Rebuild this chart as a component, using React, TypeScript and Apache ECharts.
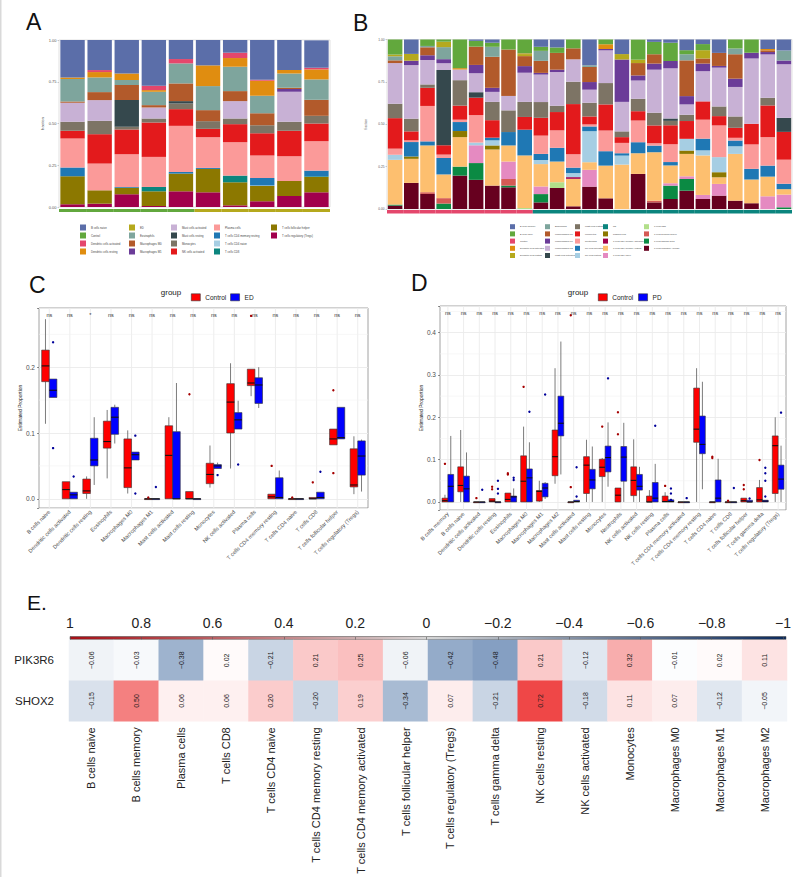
import React, { useEffect, useRef } from 'react';
import * as echarts from 'echarts';

// ---------- shared palette (assigned in alphabetical legend order) ----------
const PALETTE = ['#5b6ea9', '#62a83d', '#e4476c', '#e08d10', '#b5a91d', '#7ea59d', '#b25a2b', '#6b3c98', '#c8b1d5', '#35484d', '#7d7465', '#e31a1c', '#fb9a99', '#1f78b4', '#a6cee3', '#0b857e', '#8c7800', '#a1004c', '#fdbf6f', '#e58ac1', '#b2df8a', '#d55a55', '#0b8a43', '#67001f'];

// ---------- Panel A ----------
const A_SAMPLES = ['S1', 'S2', 'S3', 'S4', 'S5', 'S6', 'S7', 'S8', 'S9', 'S10'];
const A_GROUP = ['Control', 'Control', 'Control', 'Control', 'Control', 'ED', 'ED', 'ED', 'ED', 'ED'];
const A_GROUPS = ['Control', 'ED'];
const A_LEGEND = ['B cells naive', 'Control', 'Dendritic cells activated', 'Dendritic cells resting', 'ED', 'Eosinophils', 'Macrophages M0', 'Macrophages M1', 'Mast cells activated', 'Mast cells resting', 'Monocytes', 'NK cells activated', 'Plasma cells', 'T cells CD4 memory resting', 'T cells CD4 naive', 'T cells CD8', 'T cells follicular helper', 'T cells regulatory (Tregs)'];
const A_TREGS = [0.016, 0.02, 0.076, 0.006, 0.094, 0.088, 0.01, 0.034, 0.066, 0.088];
const A_TFH = [0.168, 0.08, 0.04, 0.088, 0.106, 0.14, 0.138, 0.092, 0.09, 0.092];
const A_CD8 = [0, 0, 0, 0.026, 0, 0, 0.04, 0, 0, 0.004];
const A_CD4N = [0, 0, 0, 0, 0, 0, 0, 0.003, 0, 0];
const A_CD4MR = [0.052, 0, 0.004, 0, 0.01, 0.006, 0, 0.044, 0, 0.034];
const A_PLASMA = [0.174, 0.16, 0.196, 0.18, 0.276, 0.184, 0.2, 0.135, 0.148, 0.176];
const A_NKA = [0.046, 0.176, 0.148, 0.206, 0.1, 0.05, 0.108, 0.134, 0.152, 0.106];
const A_MONO = [0.054, 0.08, 0.016, 0.024, 0.034, 0.046, 0.034, 0.048, 0.054, 0.046];
const A_MASTR = [0, 0, 0.16, 0, 0.014, 0, 0, 0, 0, 0];
const A_MASTA = [0.114, 0.124, 0, 0.066, 0, 0, 0.104, 0, 0.18, 0];
const A_M1 = [0, 0, 0, 0, 0, 0, 0, 0, 0.016, 0];
const A_M0 = [0.008, 0.048, 0.09, 0.014, 0.106, 0.066, 0.06, 0.072, 0.008, 0.096];
const A_EOS = [0.134, 0.088, 0.03, 0.08, 0.12, 0.144, 0.146, 0.104, 0.086, 0.122];
const A_DCR = [0.01, 0.032, 0.04, 0.01, 0, 0.124, 0.052, 0.09, 0.02, 0.06];
const A_DCA = [0, 0.012, 0, 0.026, 0.026, 0, 0.032, 0.006, 0, 0.01];
const A_BNAIVE = [0.224, 0.18, 0.2, 0.274, 0.114, 0.152, 0.076, 0.238, 0.18, 0.164];
const A_STACK: [string, number[]][] = [
  ['T cells regulatory (Tregs)', A_TREGS], ['T cells follicular helper', A_TFH], ['T cells CD8', A_CD8],
  ['T cells CD4 naive', A_CD4N], ['T cells CD4 memory resting', A_CD4MR], ['Plasma cells', A_PLASMA],
  ['NK cells activated', A_NKA], ['Monocytes', A_MONO], ['Mast cells resting', A_MASTR],
  ['Mast cells activated', A_MASTA], ['Macrophages M1', A_M1], ['Macrophages M0', A_M0],
  ['Eosinophils', A_EOS], ['Dendritic cells resting', A_DCR], ['Dendritic cells activated', A_DCA],
  ['B cells naive', A_BNAIVE],
];

// ---------- Panel B ----------
const B_SAMPLES = ['P1', 'P2', 'P3', 'P4', 'P5', 'P6', 'P7', 'P8', 'P9', 'P10', 'P11', 'P12', 'P13', 'P14', 'P15', 'P16', 'P17', 'P18', 'P19', 'P20', 'P21', 'P22', 'P23', 'P24', 'P25'];
const B_GROUP = ['Control', 'Control', 'Control', 'Control', 'Control', 'Control', 'Control', 'Control', 'Control', 'PD', 'PD', 'PD', 'PD', 'PD', 'PD', 'PD', 'PD', 'PD', 'PD', 'PD', 'PD', 'PD', 'PD', 'PD', 'PD'];
const B_GROUPS = ['Control', 'PD'];
const B_LEGEND = ['B cells memory', 'B cells naive', 'Control', 'Dendritic cells activated', 'Dendritic cells resting', 'Eosinophils', 'Macrophages M0', 'Macrophages M1', 'Macrophages M2', 'Mast cells activated', 'Mast cells resting', 'Monocytes', 'Neutrophils', 'NK cells activated', 'NK cells resting', 'PD', 'Plasma cells', 'T cells CD4 memory activated', 'T cells CD4 memory resting', 'T cells CD4 naive', 'T cells CD8', 'T cells follicular helper', 'T cells gamma delta', 'T cells regulatory (Tregs)'];
const B_TREGS = [0.02, 0.154, 0.089, 0, 0.197, 0.172, 0.138, 0.128, 0, 0.039, 0.124, 0.016, 0.132, 0.063, 0, 0.207, 0.039, 0.059, 0.108, 0.059, 0.079, 0.049, 0.034, 0, 0];
const B_TGD = [0.006, 0, 0, 0.032, 0.053, 0.099, 0, 0.01, 0, 0.049, 0, 0, 0, 0, 0, 0, 0, 0.079, 0.069, 0, 0, 0, 0, 0, 0.01];
const B_TFH = [0, 0, 0.01, 0.032, 0, 0, 0, 0.039, 0, 0, 0, 0, 0, 0, 0, 0, 0.01, 0, 0, 0, 0, 0, 0, 0, 0];
const B_CD8 = [0, 0, 0, 0, 0, 0, 0, 0, 0.006, 0, 0.034, 0, 0, 0, 0, 0, 0, 0, 0, 0, 0, 0, 0, 0, 0];
const B_CD4N = [0, 0, 0, 0, 0, 0.105, 0, 0.103, 0, 0.045, 0, 0, 0.099, 0, 0, 0, 0, 0.014, 0.016, 0.024, 0.069, 0, 0, 0.075, 0.075];
const B_CD4MR = [0.264, 0.142, 0.276, 0.14, 0.174, 0, 0.213, 0.095, 0.31, 0.132, 0.122, 0.162, 0.045, 0.193, 0.262, 0.122, 0.286, 0.105, 0.132, 0.233, 0.039, 0.276, 0.14, 0.116, 0.032];
const B_CD4MA = [0, 0, 0, 0, 0, 0, 0, 0, 0, 0, 0, 0.01, 0, 0, 0, 0, 0, 0, 0, 0, 0, 0, 0, 0, 0];
const B_PLASMA = [0, 0.014, 0, 0, 0.036, 0, 0.024, 0, 0, 0, 0, 0, 0, 0, 0, 0, 0, 0, 0.02, 0, 0.03, 0, 0, 0, 0];
const B_NKR = [0.03, 0, 0, 0, 0, 0.016, 0.03, 0, 0, 0.024, 0, 0.024, 0.183, 0, 0.053, 0, 0, 0, 0.069, 0.03, 0.089, 0.045, 0, 0, 0];
const B_NKA = [0, 0.085, 0.024, 0.097, 0.053, 0, 0.016, 0.079, 0.152, 0.036, 0.081, 0.032, 0.028, 0.085, 0.014, 0.065, 0.039, 0.02, 0, 0.069, 0, 0.034, 0.063, 0.065, 0.032];
const B_NEUT = [0.036, 0.01, 0.209, 0.02, 0.014, 0.162, 0, 0, 0, 0.108, 0.103, 0.079, 0.012, 0.122, 0.061, 0.128, 0.014, 0.105, 0, 0.112, 0.187, 0.016, 0.144, 0.168, 0.142];
const B_MONO = [0.18, 0.053, 0.107, 0.055, 0.083, 0.103, 0.103, 0, 0.075, 0.105, 0.108, 0.296, 0.047, 0.154, 0.034, 0.055, 0.105, 0.112, 0.105, 0.108, 0.055, 0.059, 0.122, 0.187, 0.164];
const B_MASTR = [0.085, 0.075, 0.02, 0, 0.15, 0, 0.108, 0.128, 0.089, 0.093, 0.037, 0.132, 0.081, 0.126, 0.034, 0.073, 0.075, 0.026, 0.037, 0, 0.057, 0.067, 0, 0.045, 0];
const B_MASTA = [0, 0, 0, 0.444, 0, 0.032, 0, 0, 0, 0, 0, 0, 0, 0, 0, 0, 0, 0.014, 0, 0, 0, 0, 0, 0, 0.083];
const B_M2 = [0.24, 0.316, 0.144, 0.04, 0.063, 0.112, 0.059, 0.085, 0.172, 0.162, 0.199, 0.132, 0.077, 0.193, 0.174, 0.108, 0.254, 0.296, 0.061, 0.178, 0.229, 0.174, 0.385, 0.256, 0.316];
const B_M1 = [0, 0.026, 0.028, 0.024, 0, 0.049, 0.024, 0, 0.039, 0.01, 0.014, 0, 0.045, 0.008, 0.25, 0.03, 0.036, 0.043, 0.049, 0.045, 0.01, 0.049, 0.034, 0.014, 0.022];
const B_M0 = [0.016, 0, 0.047, 0, 0, 0.108, 0.183, 0.274, 0.059, 0.071, 0.099, 0.065, 0.089, 0, 0, 0.073, 0.055, 0, 0.211, 0.03, 0.077, 0.144, 0, 0.01, 0];
const B_EOS = [0.024, 0, 0.008, 0.071, 0, 0, 0.059, 0, 0, 0.059, 0, 0, 0.01, 0, 0, 0, 0, 0, 0.036, 0, 0, 0.034, 0, 0, 0.059];
const B_DCR = [0.01, 0.04, 0, 0.032, 0, 0, 0, 0, 0.012, 0, 0, 0, 0, 0, 0.032, 0.02, 0, 0, 0, 0.049, 0, 0, 0, 0, 0];
const B_DCA = [0, 0, 0, 0, 0.008, 0, 0, 0, 0.004, 0, 0, 0, 0, 0.028, 0, 0, 0, 0, 0, 0, 0, 0, 0, 0.008, 0];
const B_BNAIVE = [0.089, 0, 0.04, 0.016, 0.17, 0.034, 0.024, 0.059, 0.083, 0.024, 0.032, 0.053, 0, 0.028, 0, 0.118, 0.073, 0.108, 0.024, 0.036, 0, 0.053, 0.079, 0, 0];
const B_BMEM = [0, 0.087, 0, 0, 0, 0.01, 0.02, 0, 0, 0.043, 0.047, 0, 0.152, 0, 0.087, 0, 0.014, 0.02, 0.063, 0.028, 0.079, 0, 0, 0.055, 0.067];
const B_STACK: [string, number[]][] = [
  ['T cells regulatory (Tregs)', B_TREGS], ['T cells gamma delta', B_TGD], ['T cells follicular helper', B_TFH],
  ['T cells CD8', B_CD8], ['T cells CD4 naive', B_CD4N], ['T cells CD4 memory resting', B_CD4MR],
  ['T cells CD4 memory activated', B_CD4MA], ['Plasma cells', B_PLASMA], ['NK cells resting', B_NKR],
  ['NK cells activated', B_NKA], ['Neutrophils', B_NEUT], ['Monocytes', B_MONO],
  ['Mast cells resting', B_MASTR], ['Mast cells activated', B_MASTA], ['Macrophages M2', B_M2],
  ['Macrophages M1', B_M1], ['Macrophages M0', B_M0], ['Eosinophils', B_EOS],
  ['Dendritic cells resting', B_DCR], ['Dendritic cells activated', B_DCA], ['B cells naive', B_BNAIVE],
  ['B cells memory', B_BMEM],
];

// ---------- Panel C (boxes: [lower whisker, Q1, median, Q3, upper whisker]) ----------
const C_CATS = ['B cells naive', 'Dendritic cells activated', 'Dendritic cells resting', 'Eosinophils', 'Macrophages M0', 'Macrophages M1', 'Mast cells activated', 'Mast cells resting', 'Monocytes', 'NK cells activated', 'Plasma cells', 'T cells CD4 memory resting', 'T cells CD4 naive', 'T cells CD8', 'T cells follicular helper', 'T cells regulatory (Tregs)'];
const C_CTRL_BOX = [[0.114, 0.178, 0.202, 0.226, 0.273], [0, 0, 0.014, 0.026, 0.026], [0, 0.008, 0.012, 0.03, 0.034], [0.031, 0.077, 0.087, 0.118, 0.135], [0.008, 0.017, 0.047, 0.091, 0.104], [0, 0, 0, 0, 0], [0, 0, 0.066, 0.111, 0.124], [0, 0, 0, 0.011, 0.011], [0.017, 0.023, 0.037, 0.054, 0.081], [0.046, 0.1, 0.147, 0.175, 0.206], [0.156, 0.172, 0.176, 0.197, 0.197], [0, 0, 0.003, 0.007, 0.007], [0, 0, 0, 0, 0], [0, 0, 0, 0.002, 0.002], [0.082, 0.082, 0.091, 0.106, 0.106], [0.007, 0.018, 0.021, 0.076, 0.095]];
const C_ED_BOX = [[0.154, 0.154, 0.165, 0.182, 0.182], [0, 0, 0.006, 0.01, 0.01], [0.021, 0.05, 0.059, 0.092, 0.124], [0.084, 0.098, 0.124, 0.139, 0.143], [0.059, 0.059, 0.067, 0.071, 0.071], [0, 0, 0, 0, 0], [0, 0, 0, 0.102, 0.176], [0, 0, 0, 0, 0], [0.046, 0.046, 0.05, 0.052, 0.055], [0.106, 0.106, 0.12, 0.131, 0.149], [0.138, 0.145, 0.173, 0.184, 0.2], [0, 0, 0.002, 0.032, 0.043], [0, 0, 0, 0, 0], [0, 0, 0.002, 0.01, 0.01], [0.091, 0.091, 0.093, 0.139, 0.139], [0.011, 0.036, 0.065, 0.088, 0.09]];
const C_CTRL_OUT = [[], [], [], [], [], [0.002], [], [0.159], [], [], [0.278], [0.05], [0.002], [0.025], [0.165, 0.039], []];
const C_ED_OUT = [[0.238, 0.077], [0.034], [], [], [0.096, 0.008], [0.018], [], [], [0.036], [0.052], [], [], [], [0.041], [], []];
const C_SIG = ['ns', 'ns', '*', 'ns', 'ns', 'ns', 'ns', 'ns', 'ns', 'ns', 'ns', 'ns', 'ns', 'ns', 'ns', 'ns'];
const C_MINOR = [0.05, 0.15, 0.25];

// ---------- Panel D ----------
const D_CATS = ['B cells memory', 'B cells naive', 'Dendritic cells activated', 'Dendritic cells resting', 'Eosinophils', 'Macrophages M0', 'Macrophages M1', 'Macrophages M2', 'Mast cells activated', 'Mast cells resting', 'Monocytes', 'Neutrophils', 'NK cells activated', 'NK cells resting', 'Plasma cells', 'T cells CD4 memory activated', 'T cells CD4 memory resting', 'T cells CD4 naive', 'T cells CD8', 'T cells follicular helper', 'T cells gamma delta', 'T cells regulatory (Tregs)'];
const D_CTRL_BOX = [[0, 0, 0.003, 0.009, 0.017], [0, 0.024, 0.039, 0.083, 0.17], [0, 0, 0, 0, 0], [0, 0, 0.002, 0.008, 0.008], [0, 0, 0.006, 0.021, 0.021], [0, 0, 0.049, 0.109, 0.178], [0, 0.002, 0.025, 0.027, 0.05], [0.043, 0.062, 0.107, 0.17, 0.316], [0, 0, 0, 0, 0], [0, 0.02, 0.087, 0.107, 0.147], [0, 0.06, 0.082, 0.101, 0.104], [0, 0, 0.016, 0.033, 0.033], [0, 0.015, 0.051, 0.083, 0.148], [0, 0, 0, 0.014, 0.028], [0, 0, 0.001, 0.014, 0.023], [0, 0, 0, 0, 0], [0, 0.141, 0.172, 0.269, 0.316], [0, 0, 0, 0, 0], [0, 0, 0, 0, 0], [0, 0, 0.003, 0.009, 0.009], [0, 0, 0.005, 0.034, 0.052], [0, 0.02, 0.133, 0.156, 0.2]];
const D_PD_BOX = [[0, 0, 0.037, 0.065, 0.156], [0, 0, 0.031, 0.061, 0.117], [0, 0, 0, 0, 0], [0, 0, 0, 0, 0], [0, 0, 0.012, 0.014, 0.032], [0, 0, 0.057, 0.078, 0.141], [0.007, 0.012, 0.033, 0.044, 0.047], [0.065, 0.156, 0.186, 0.25, 0.379], [0, 0, 0.001, 0.004, 0.004], [0, 0.031, 0.052, 0.077, 0.131], [0.036, 0.071, 0.105, 0.132, 0.188], [0, 0.049, 0.106, 0.131, 0.187], [0, 0.028, 0.037, 0.065, 0.083], [0, 0, 0.009, 0.046, 0.09], [0, 0, 0.001, 0.005, 0.005], [0, 0, 0, 0, 0], [0.03, 0.114, 0.136, 0.203, 0.284], [0, 0, 0.009, 0.052, 0.102], [0, 0, 0, 0, 0], [0, 0, 0, 0.004, 0.004], [0, 0, 0.002, 0.004, 0.004], [0, 0.03, 0.054, 0.087, 0.133]];
const D_CTRL_OUT = [[0.09], [], [0.009], [0.036, 0.03], [0.068, 0.065], [0.272], [], [], [0.441, 0.035], [], [0.178], [0.212, 0.16], [], [], [0.038], [], [], [0.107, 0.104], [0.003], [0.04, 0.03], [0.099], []];
const D_PD_OUT = [[], [], [0.029], [0.05, 0.031, 0.02], [0.057, 0.052], [0.213], [0.254], [], [0.082, 0.013], [], [0.292], [], [], [0.18], [0.032, 0.02, 0.005], [0.009], [], [], [0.033], [0.008], [0.081, 0.068, 0.05, 0.013], [0.211]];
const D_SIG = ['ns', 'ns', 'ns', 'ns', 'ns', 'ns', 'ns', 'ns', 'ns', 'ns', 'ns', 'ns', 'ns', 'ns', 'ns', 'ns', 'ns', 'ns', 'ns', 'ns', 'ns', 'ns'];
const D_MINOR = [0.05, 0.15, 0.25, 0.35, 0.45];

// ---------- Panel E ----------
const E_COLS = ['B cells naive', 'B cells memory', 'Plasma cells', 'T cells CD8', 'T cells CD4 naive', 'T cells CD4 memory resting', 'T cells CD4 memory activated', 'T cells follicular helper', 'T cells regulatory (Tregs)', 'T cells gamma delta', 'NK cells resting', 'NK cells activated', 'Monocytes', 'Macrophages M0', 'Macrophages M1', 'Macrophages M2'];
const E_ROWS = ['SHOX2', 'PIK3R6'];
const E_PIK3R6 = [-0.06, -0.03, -0.38, 0.02, -0.21, 0.21, 0.25, -0.06, -0.42, -0.48, 0.21, -0.12, 0.32, -0.01, 0.02, 0.11];
const E_SHOX2 = [-0.15, 0.5, 0.06, 0.06, 0.2, -0.2, 0.19, -0.34, 0.07, -0.21, 0.72, -0.18, 0.11, 0.07, -0.12, -0.05];

const FONT = 'Liberation Sans';
const minus = (s: string) => s.replace('-', '\u2212');

function boxRenderer(side: number, fill: string) {
  return (params: any, api: any) => {
    const i = api.value(0);
    const lo = api.value(1), q1 = api.value(2), med = api.value(3), q3 = api.value(4), hi = api.value(5);
    const band = api.size([1, 0])[0];
    const w = band * 0.37;
    const c0 = api.coord([i, 0])[0];
    const left = side < 0 ? c0 - w : c0;
    const cx = left + w / 2;
    const y = (v: number) => api.coord([i, v])[1];
    const h = Math.max(y(q1) - y(q3), 0.8);
    return {
      type: 'group',
      children: [
        { type: 'line', shape: { x1: cx, y1: y(hi), x2: cx, y2: y(q3) }, style: { stroke: '#5a5a5a', lineWidth: 0.8 } },
        { type: 'line', shape: { x1: cx, y1: y(q1), x2: cx, y2: y(lo) }, style: { stroke: '#5a5a5a', lineWidth: 0.8 } },
        { type: 'rect', shape: { x: left, y: y(q3), width: w, height: h }, style: { fill, stroke: '#333', lineWidth: 0.6 } },
        { type: 'line', shape: { x1: left, y1: y(med), x2: left + w, y2: y(med) }, style: { stroke: '#111', lineWidth: 1.1 } },
      ],
    };
  };
}

function outlierRenderer(color: string) {
  return (params: any, api: any) => {
    const i = api.value(0);
    const side = api.value(1);
    const v = api.value(2);
    const band = api.size([1, 0])[0];
    const w = band * 0.37;
    const c = api.coord([i, v]);
    return { type: 'circle', shape: { cx: c[0] + side * w / 2, cy: c[1], r: 1.2 }, style: { fill: color } };
  };
}

function boxPanelSeries(prefix: string, axis: number, cats: string[], boxA: number[][], boxB: number[][], outA: number[][], outB: number[][], sig: string[], sigY: number, minor: number[], nameA: string, nameB: string) {
  const vgrid = {
    type: 'custom', xAxisIndex: axis, yAxisIndex: axis, silent: true, z: 1,
    data: cats.map((_, i) => [i, 0]), encode: { x: 0, y: 1 },
    renderItem: (params: any, api: any) => {
      const cs = params.coordSys;
      const x = api.coord([api.value(0), 0])[0];
      return { type: 'line', shape: { x1: x, y1: cs.y, x2: x, y2: cs.y + cs.height }, style: { stroke: '#ebebeb', lineWidth: 0.9 } };
    },
  };
  const hgrid = {
    type: 'custom', xAxisIndex: axis, yAxisIndex: axis, silent: true, z: 1,
    data: minor.map((v) => [0, v]), encode: { x: 0, y: 1 },
    renderItem: (params: any, api: any) => {
      const cs = params.coordSys;
      const yv = api.coord([0, api.value(1)])[1];
      return { type: 'line', shape: { x1: cs.x, y1: yv, x2: cs.x + cs.width, y2: yv }, style: { stroke: '#f2f2f2', lineWidth: 0.6 } };
    },
  };
  const sA = {
    type: 'custom', name: prefix + '|' + nameA, xAxisIndex: axis, yAxisIndex: axis, z: 3,
    itemStyle: { color: '#ff0000' },
    data: boxA.map((b, i) => [i, ...b]), encode: { x: 0, y: [1, 2, 3, 4, 5] },
    renderItem: boxRenderer(-1, '#ff0000'),
  };
  const sB = {
    type: 'custom', name: prefix + '|' + nameB, xAxisIndex: axis, yAxisIndex: axis, z: 3,
    itemStyle: { color: '#0000ff' },
    data: boxB.map((b, i) => [i, ...b]), encode: { x: 0, y: [1, 2, 3, 4, 5] },
    renderItem: boxRenderer(1, '#0000ff'),
  };
  const oA = {
    type: 'custom', xAxisIndex: axis, yAxisIndex: axis, z: 4, silent: true,
    data: outA.flatMap((arr, i) => arr.map((v) => [i, -1, v])), encode: { x: 0, y: 2 },
    renderItem: outlierRenderer('#a50000'),
  };
  const oB = {
    type: 'custom', xAxisIndex: axis, yAxisIndex: axis, z: 4, silent: true,
    data: outB.flatMap((arr, i) => arr.map((v) => [i, 1, v])), encode: { x: 0, y: 2 },
    renderItem: outlierRenderer('#00009a'),
  };
  const sg = {
    type: 'custom', xAxisIndex: axis, yAxisIndex: axis, z: 5, silent: true,
    data: cats.map((_, i) => [i, sigY]), encode: { x: 0, y: 1 },
    renderItem: (params: any, api: any) => {
      const c = api.coord([api.value(0), api.value(1)]);
      return { type: 'text', x: c[0], y: c[1], style: { text: sig[params.dataIndex], fill: '#333', fontSize: 5.5, fontFamily: FONT, align: 'center', verticalAlign: 'middle' } };
    },
  };
  return [vgrid, hgrid, sA, sB, oA, oB, sg];
}

function buildOption() {
  const series: any[] = [];
  A_STACK.forEach(([name, vals]) => {
    series.push({ type: 'bar', name: 'A|' + name, stack: 'A', xAxisIndex: 0, yAxisIndex: 0, barCategoryGap: '10%', data: vals, itemStyle: { color: PALETTE[A_LEGEND.indexOf(name)] } });
  });
  A_GROUPS.forEach((g) => {
    series.push({ type: 'bar', name: 'A|' + g, stack: 'As', xAxisIndex: 1, yAxisIndex: 1, barCategoryGap: '0%', data: A_GROUP.map((x) => (x === g ? 1 : 0)), itemStyle: { color: PALETTE[A_LEGEND.indexOf(g)] } });
  });
  B_STACK.forEach(([name, vals]) => {
    series.push({ type: 'bar', name: 'B|' + name, stack: 'B', xAxisIndex: 2, yAxisIndex: 2, barCategoryGap: '10%', data: vals, itemStyle: { color: PALETTE[B_LEGEND.indexOf(name)] } });
  });
  B_GROUPS.forEach((g) => {
    series.push({ type: 'bar', name: 'B|' + g, stack: 'Bs', xAxisIndex: 3, yAxisIndex: 3, barCategoryGap: '0%', data: B_GROUP.map((x) => (x === g ? 1 : 0)), itemStyle: { color: PALETTE[B_LEGEND.indexOf(g)] } });
  });
  series.push(...boxPanelSeries('C', 4, C_CATS, C_CTRL_BOX, C_ED_BOX, C_CTRL_OUT, C_ED_OUT, C_SIG, 0.28, C_MINOR, 'Control', 'ED'));
  series.push(...boxPanelSeries('D', 5, D_CATS, D_CTRL_BOX, D_PD_BOX, D_CTRL_OUT, D_PD_OUT, D_SIG, 0.4465, D_MINOR, 'Control', 'PD'));
  const heatIndex = series.length;
  series.push({
    type: 'heatmap', xAxisIndex: 6, yAxisIndex: 6,
    data: [...E_PIK3R6.map((v, i) => [i, 1, v]), ...E_SHOX2.map((v, i) => [i, 0, v])],
    label: { show: true, rotate: 90, fontSize: 7, color: '#1a1a1a', fontFamily: FONT, formatter: (p: any) => minus(p.value[2].toFixed(2)) },
    itemStyle: { borderWidth: 0 },
  });

  const legends: any[] = [];
  const strip = (n: string) => n.slice(2);
  const aCols = [[0, 4], [4, 8], [8, 12], [12, 16], [16, 18]];
  const aLefts = [75, 124, 166, 209, 266];
  aCols.forEach(([s, e], k) => {
    legends.push({ orient: 'vertical', left: aLefts[k], top: 219.5, itemWidth: 6, itemHeight: 6, itemGap: 2, icon: 'rect', selectedMode: false, formatter: strip, textStyle: { fontSize: 2.8, color: '#444', fontFamily: FONT }, data: A_LEGEND.slice(s, e).map((n) => 'A|' + n) });
  });
  const bCols = [[0, 5], [5, 10], [10, 15], [15, 20], [20, 24]];
  const bLefts = [505, 540, 570, 598, 639];
  bCols.forEach(([s, e], k) => {
    legends.push({ orient: 'vertical', left: bLefts[k], top: 219.2, itemWidth: 5, itemHeight: 5, itemGap: 2.2, icon: 'rect', selectedMode: false, formatter: strip, textStyle: { fontSize: 2.3, color: '#444', fontFamily: FONT }, data: B_LEGEND.slice(s, e).map((n) => 'B|' + n) });
  });
  legends.push({ orient: 'horizontal', left: 186, top: 288.5, itemWidth: 9, itemHeight: 7, itemGap: 4, icon: 'rect', selectedMode: false, formatter: strip, itemStyle: { borderColor: '#333', borderWidth: 0.6 }, textStyle: { fontSize: 6.5, color: '#222', fontFamily: FONT }, data: ['C|Control', 'C|ED'] });
  legends.push({ orient: 'horizontal', left: 593, top: 288.5, itemWidth: 9, itemHeight: 7, itemGap: 5, icon: 'rect', selectedMode: false, formatter: strip, itemStyle: { borderColor: '#333', borderWidth: 0.6 }, textStyle: { fontSize: 6.5, color: '#222', fontFamily: FONT }, data: ['D|Control', 'D|PD'] });

  const tiny = { fontSize: 4, color: '#555', fontFamily: FONT };
  const boxX = (gi: number, cats: string[]) => ({
    gridIndex: gi, type: 'category', data: cats,
    axisLabel: { rotate: 45, interval: 0, fontSize: 5.5, color: '#4d4d4d', margin: 3, fontFamily: FONT },
    axisTick: { alignWithLabel: true, length: 2, lineStyle: { color: '#444', width: 0.6 } },
    axisLine: { show: false }, splitLine: { show: false },
  });
  const boxY = (gi: number, min: number, max: number, split: number, gap: number) => ({
    gridIndex: gi, type: 'value', min, max, splitNumber: split,
    name: 'Estimated Proportion', nameLocation: 'middle', nameGap: gap, nameTextStyle: { fontSize: 5, color: '#222', fontFamily: FONT },
    axisLabel: { fontSize: 6.5, color: '#4d4d4d', margin: 4, fontFamily: FONT, formatter: (v: number) => (Math.abs(v * 10 - Math.round(v * 10)) < 1e-6 ? v.toFixed(1) : '') },
    axisTick: { show: true, length: 2, lineStyle: { color: '#444', width: 0.6 } },
    axisLine: { show: false }, splitLine: { show: true, lineStyle: { color: '#ebebeb', width: 0.9 } },
  });

  return {
    animation: false,
    backgroundColor: '#ffffff',
    textStyle: { fontFamily: FONT },
    grid: [
      { left: 59, top: 40, width: 271, height: 167, show: true, borderColor: '#cfcfcf', borderWidth: 0.6 },
      { left: 59, top: 209, width: 271, height: 3 },
      { left: 387, top: 39.5, width: 405, height: 169.5, show: true, borderColor: '#cfcfcf', borderWidth: 0.6 },
      { left: 387, top: 210, width: 405, height: 3.5 },
      { left: 39, top: 308, width: 329, height: 200, show: true, borderColor: '#8c8c8c', borderWidth: 0.8 },
      { left: 440, top: 306, width: 346, height: 204, show: true, borderColor: '#8c8c8c', borderWidth: 0.8 },
      { left: 69, top: 640, width: 718, height: 90 },
      { left: 70, top: 637, width: 716, height: 3 },
    ],
    xAxis: [
      { gridIndex: 0, type: 'category', data: A_SAMPLES, show: false },
      { gridIndex: 1, type: 'category', data: A_SAMPLES, show: false },
      { gridIndex: 2, type: 'category', data: B_SAMPLES, show: false },
      { gridIndex: 3, type: 'category', data: B_SAMPLES, show: false },
      boxX(4, C_CATS),
      boxX(5, D_CATS),
      { gridIndex: 6, type: 'category', data: E_COLS, axisLabel: { rotate: 90, interval: 0, fontSize: 11, color: '#222', margin: 6, fontFamily: FONT }, axisLine: { show: false }, axisTick: { show: false }, splitLine: { show: false } },
      { gridIndex: 7, type: 'value', min: -1, max: 1, interval: 0.2, inverse: true, position: 'top', axisLine: { show: false }, splitLine: { show: false }, axisTick: { show: true, length: 3, lineStyle: { color: '#555', width: 0.6 } }, axisLabel: { fontSize: 14, color: '#222', margin: 7, fontFamily: FONT, formatter: (v: number) => { const r = Math.round(v * 10) / 10; return r === 0 ? '0' : minus(String(r)); } } },
    ],
    yAxis: [
      { gridIndex: 0, type: 'value', min: 0, max: 1, interval: 0.25, name: 'fraction', nameLocation: 'middle', nameGap: 14, nameTextStyle: tiny, axisLabel: { ...tiny, margin: 2.5, formatter: (v: number) => v.toFixed(2) }, axisTick: { show: true, length: 1.5, lineStyle: { color: '#999', width: 0.5 } }, axisLine: { show: false }, splitLine: { show: false } },
      { gridIndex: 1, type: 'value', min: 0, max: 1, show: false },
      { gridIndex: 2, type: 'value', min: 0, max: 1, interval: 0.25, name: 'fraction', nameLocation: 'middle', nameGap: 10, nameTextStyle: { ...tiny, fontSize: 3.2 }, axisLabel: { ...tiny, fontSize: 3.2, margin: 2.5, formatter: (v: number) => v.toFixed(2) }, axisTick: { show: true, length: 1.5, lineStyle: { color: '#999', width: 0.5 } }, axisLine: { show: false }, splitLine: { show: false } },
      { gridIndex: 3, type: 'value', min: 0, max: 1, show: false },
      boxY(4, -0.014, 0.29, 3, 17),
      boxY(5, -0.019, 0.463, 5, 17),
      { gridIndex: 6, type: 'category', data: E_ROWS, axisLabel: { fontSize: 11.5, color: '#222', margin: 15, fontFamily: FONT }, axisLine: { show: false }, axisTick: { show: false }, splitLine: { show: false } },
      { gridIndex: 7, type: 'value', min: 0, max: 1, show: false },
    ],
    legend: legends,
    visualMap: { type: 'continuous', show: false, min: -1, max: 1, seriesIndex: heatIndex, inRange: { color: ['#00377f', '#ffffff', '#e90000'] } },
    graphic: [
      { type: 'rect', left: 0, top: 0, shape: { width: 1.5, height: 877 }, style: { fill: '#d9d9d9' }, silent: true },
      { type: 'text', x: 26, y: 21.5, style: { text: 'A', fontSize: 23, fill: '#111', fontFamily: FONT, verticalAlign: 'middle' } },
      { type: 'text', x: 353, y: 22.5, style: { text: 'B', fontSize: 23, fill: '#111', fontFamily: FONT, verticalAlign: 'middle' } },
      { type: 'text', x: 29, y: 284.5, style: { text: 'C', fontSize: 23, fill: '#111', fontFamily: FONT, verticalAlign: 'middle' } },
      { type: 'text', x: 411, y: 283, style: { text: 'D', fontSize: 23, fill: '#111', fontFamily: FONT, verticalAlign: 'middle' } },
      { type: 'text', x: 27, y: 602, style: { text: 'E.', fontSize: 21, fill: '#111', fontFamily: FONT, verticalAlign: 'middle' } },
      { type: 'text', x: 171, y: 292, style: { text: 'group', fontSize: 8, fill: '#222', fontFamily: FONT, align: 'center', verticalAlign: 'middle' } },
      { type: 'text', x: 578, y: 292, style: { text: 'group', fontSize: 8, fill: '#222', fontFamily: FONT, align: 'center', verticalAlign: 'middle' } },
      {
        type: 'rect', x: 70, y: 636.5, shape: { width: 716, height: 3 }, silent: true,
        style: { fill: { type: 'linear', x: 0, y: 0, x2: 1, y2: 0, colorStops: [{ offset: 0, color: '#a50f15' }, { offset: 0.5, color: '#d6d6d6' }, { offset: 1, color: '#0b2a5b' }] }, stroke: '#444', lineWidth: 0.5 },
      },
    ],
    series,
  };
}

export default function App() {
  const ref = useRef<HTMLDivElement>(null);
  useEffect(() => {
    if (!ref.current) return;
    const chart = echarts.init(ref.current, undefined, { renderer: 'svg' });
    chart.setOption(buildOption() as any);
    return () => chart.dispose();
  }, []);
  return <div ref={ref} style={{ position: 'absolute', left: 0, top: 0, width: 794, height: 877, background: '#fff' }} />;
}
